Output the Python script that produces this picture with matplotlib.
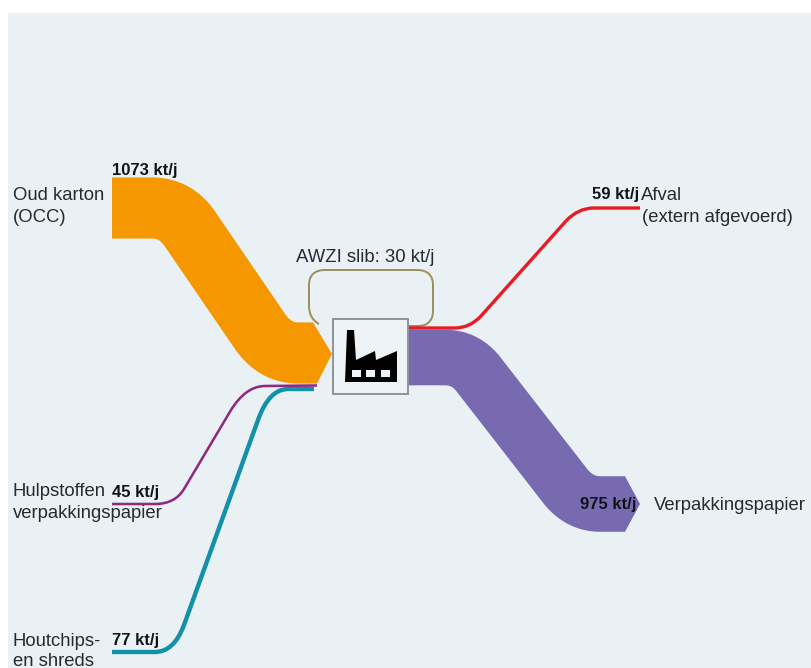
#!/usr/bin/env python3
import matplotlib
matplotlib.use('Agg')
import matplotlib.pyplot as plt
from matplotlib.path import Path
from matplotlib.patches import PathPatch, Polygon, Rectangle

plt.rcParams['font.family'] = ['Liberation Sans', 'DejaVu Sans']

# flows in kt/j
names = ['slib', 'occ', 'papier', 'chips', 'hulp', 'afval']
values = [30, 1073, 975, 77, 45, 59]
colors = ['#9b9160', '#f59700', '#776ab0', '#1391a9', '#8f2a80', '#e81c24']
value_labels = ['1073 kt/j', '45 kt/j', '77 kt/j', '975 kt/j', '59 kt/j']
occ_lines = ['Oud karton', '(OCC)']
hulp_lines = ['Hulpstoffen', 'verpakkingspapier']
chips_lines = ['Houtchips-', 'en shreds']
afval_lines = ['Afval', '(extern afgevoerd)']
papier_label = 'Verpakkingspapier'
slib_label = 'AWZI slib: 30 kt/j'

PX_PER_KT = 0.057
W, H = 811, 668
M, L, C3, C4 = Path.MOVETO, Path.LINETO, Path.CURVE3, Path.CURVE4

# centre lines of the bands, in pixels
routes = {
    'occ': [(112, 208), (152, 208), (C3, 176, 208), (C3, 190, 229), (259, 330),
            (C3, 274, 353), (C3, 298, 353), (313, 353)],
    'papier': [(408, 357.5), (445, 357.5), (C3, 466, 357.5), (C3, 479, 375), (566, 487),
               (C3, 580, 504), (C3, 600, 504), (625, 504)],
    'afval': [(408, 328), (455, 328), (C3, 470, 328), (C3, 481, 316), (566, 221),
              (C3, 578, 208), (C3, 594, 208), (640, 208)],
    'hulp': [(112, 504), (155, 504), (C3, 175, 504), (C3, 184, 489), (231, 410),
             (C3, 246, 386), (C3, 265, 386), (317, 385.5)],
    'chips': [(112, 652), (155, 652), (C3, 174, 652), (C3, 184, 625), (258, 420),
              (C3, 269, 389), (C3, 288, 389), (314, 389)],
    'slib': [(319, 324), (C4, 312, 320), (C4, 309, 314), (C4, 309, 305), (309, 285),
             (C4, 309, 275), (C4, 315, 270), (C4, 325, 270), (417, 270),
             (C4, 427, 270), (C4, 433, 275), (C4, 433, 285), (433, 311),
             (C4, 433, 321), (C4, 427, 326), (C4, 418, 326), (408, 326)],
}


def to_path(route):
    verts, codes = [], []
    for i, p in enumerate(route):
        if len(p) == 3:
            verts.append(p[1:])
            codes.append(p[0])
        else:
            verts.append(p)
            codes.append(M if i == 0 else L)
    return Path(verts, codes)


def label(x, y, s, **kw):
    ax.text(x, y, s, va='center', zorder=6, **kw)


fig = plt.figure(figsize=(W / 100, H / 100), dpi=100, facecolor='white')
ax = fig.add_axes([0, 0, 1, 1])
ax.set_xlim(0, W)
ax.set_ylim(H, 0)
ax.axis('off')
ax.add_patch(Rectangle((8, 13), W - 8, H - 13, fc='#eaf1f5', ec='none', zorder=0))

px_to_pt = 72 / fig.dpi
for name, value, color in zip(names, values, colors):
    lw = max(value * PX_PER_KT, 2) * px_to_pt
    ax.add_patch(PathPatch(to_path(routes[name]), fc='none', ec=color, lw=lw,
                           capstyle='butt', joinstyle='round', zorder=2))

# arrow heads on the two big bands
occ_w = values[1] * PX_PER_KT
pap_w = values[2] * PX_PER_KT
ax.add_patch(Polygon([(313, 353 - occ_w / 2), (332, 354), (317, 353 + occ_w / 2),
                      (313, 353 + occ_w / 2)], fc=colors[1], ec='none', zorder=2))
ax.add_patch(Polygon([(625, 504 - pap_w / 2), (640, 504), (625, 504 + pap_w / 2)],
                     fc=colors[2], ec='none', zorder=2))

# factory box and icon
ax.add_patch(Rectangle((333, 319), 75, 75, fc='#eef3f7', ec='#8f9498', lw=1.4, zorder=3))
factory = [(345, 382), (347, 330), (354, 330), (356, 360), (375, 351), (376, 360),
           (397, 351), (397, 382)]
ax.add_patch(Polygon(factory, fc='black', ec='none', zorder=4))
for x in (352, 366, 381):
    ax.add_patch(Rectangle((x, 370), 9, 7, fc='#eef3f7', ec='none', zorder=5))

# labels, one text per line
reg = dict(fontsize=13.3, color='#262a33')
bold = dict(fontsize=12, weight='bold', color='#11131a')

label(13, 196, occ_lines[0], **reg)
label(13, 217, occ_lines[1], **reg)
label(13, 491, hulp_lines[0], **reg)
label(13, 513, hulp_lines[1], **reg)
label(13, 641, chips_lines[0], **reg)
label(13, 661, chips_lines[1], **reg)
label(641, 196, afval_lines[0], **reg)
label(642, 217, afval_lines[1], **reg)
label(654, 505, papier_label, **reg)
label(296, 258, slib_label, **reg)

label(112, 170, value_labels[0], **bold)
label(112, 492, value_labels[1], **bold)
label(112, 641, value_labels[2], **bold)
label(580, 504, value_labels[3], **bold)
label(592, 195, value_labels[4], **bold)

fig.savefig('out.png', dpi=100)
